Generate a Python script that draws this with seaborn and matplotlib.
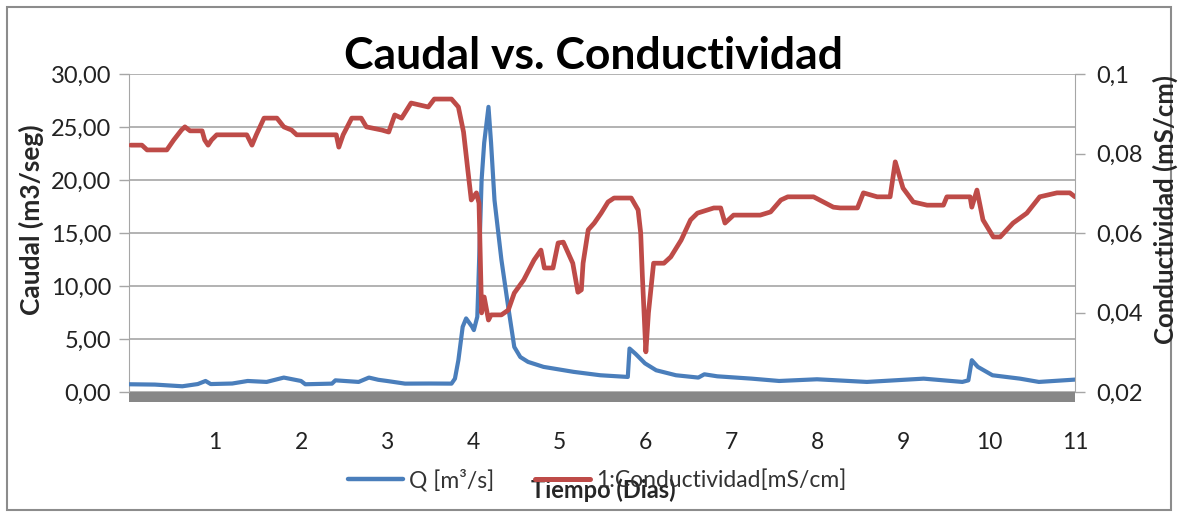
import matplotlib
matplotlib.use("Agg")
import matplotlib.pyplot as plt
from matplotlib.patches import Rectangle
from matplotlib.ticker import FuncFormatter
from matplotlib.lines import Line2D
import seaborn as sns
import pandas as pd

# ---- data ----
q_days = [0.0, 0.3, 0.62, 0.8, 0.89, 0.95, 1.2, 1.38, 1.6, 1.8, 1.9, 2.0, 2.05, 2.36, 2.4, 2.67,
          2.79, 2.9, 3.0, 3.21, 3.5, 3.75, 3.79, 3.83, 3.88, 3.92, 3.99, 4.01, 4.05, 4.06,
          4.1, 4.13, 4.18, 4.21, 4.25, 4.33, 4.41, 4.48, 4.55, 4.64, 4.82, 5.17, 5.48, 5.8,
          5.82, 5.89, 6.0, 6.13, 6.36, 6.62, 6.69, 6.84, 7.24, 7.56, 8.0, 8.58, 9.24, 9.69,
          9.76, 9.8, 9.87, 10.04, 10.36, 10.58, 11.0]
q_vals = [0.73, 0.7, 0.54, 0.75, 1.04, 0.75, 0.8, 1.04, 0.95, 1.36, 1.2, 1.04, 0.73, 0.79, 1.1, 0.95,
          1.36, 1.15, 1.04, 0.79, 0.8, 0.79, 1.26, 3.0, 6.15, 6.94, 6.15, 5.84, 7.1, 9.5,
          20.0, 23.5, 26.9, 23.5, 18.1, 12.5, 8.0, 4.25, 3.3, 2.84, 2.37, 1.9, 1.58, 1.42,
          4.1, 3.6, 2.7, 2.05, 1.58, 1.36, 1.67, 1.48, 1.26, 1.04, 1.2, 0.95, 1.26, 0.95,
          1.1, 3.0, 2.37, 1.58, 1.26, 0.95, 1.17]

c_days = [0.02, 0.15, 0.21, 0.44, 0.52, 0.61, 0.65, 0.71, 0.85, 0.88, 0.92, 0.96, 1.02, 1.37,
          1.43, 1.48, 1.57, 1.72, 1.80, 1.89, 1.95, 2.41, 2.44, 2.49, 2.59, 2.70, 2.76, 2.94,
          3.02, 3.09, 3.17, 3.28, 3.48, 3.55, 3.75, 3.83, 3.89, 3.94, 3.98, 4.04, 4.07, 4.10,
          4.13, 4.18, 4.21, 4.33, 4.41, 4.48, 4.59, 4.71, 4.79, 4.83, 4.93, 4.99, 5.05, 5.16,
          5.22, 5.26, 5.28, 5.34, 5.41, 5.49, 5.57, 5.64, 5.84, 5.92, 5.95, 5.97, 6.01, 6.04,
          6.10, 6.22, 6.30, 6.42, 6.53, 6.61, 6.80, 6.88, 6.93, 7.03, 7.34, 7.46, 7.58, 7.66,
          7.96, 8.19, 8.27, 8.47, 8.54, 8.70, 8.85, 8.91, 9.00, 9.12, 9.28, 9.47, 9.51, 9.78,
          9.80, 9.86, 9.93, 10.05, 10.13, 10.28, 10.44, 10.59, 10.79, 10.94, 11.0]
c_vals = [0.0821, 0.0821, 0.0809, 0.0809, 0.0834, 0.0859, 0.0867, 0.0857, 0.0857, 0.0834,
          0.0821, 0.0834, 0.0847, 0.0847, 0.0821, 0.0847, 0.0889, 0.0889, 0.0867, 0.0859,
          0.0847, 0.0847, 0.0816, 0.0847, 0.0889, 0.0889, 0.0867, 0.0859, 0.0854, 0.0897,
          0.0889, 0.0927, 0.0917, 0.0937, 0.0937, 0.0917, 0.0854, 0.0758, 0.0683, 0.0701,
          0.0675, 0.0399, 0.0439, 0.0381, 0.0394, 0.0394, 0.0406, 0.0449, 0.0482, 0.0532,
          0.0557, 0.0512, 0.0512, 0.0575, 0.0577, 0.0524, 0.0451, 0.0457, 0.0524, 0.0608,
          0.0625, 0.0650, 0.0678, 0.0688, 0.0688, 0.0658, 0.0600, 0.0489, 0.0301, 0.0399,
          0.0524, 0.0524, 0.0540, 0.0582, 0.0633, 0.0650, 0.0663, 0.0663, 0.0625, 0.0645,
          0.0645, 0.0653, 0.0683, 0.0691, 0.0691, 0.0665, 0.0663, 0.0663, 0.0701, 0.0691,
          0.0691, 0.0779, 0.0713, 0.0678, 0.0670, 0.0670, 0.0691, 0.0691, 0.0665, 0.0708,
          0.0633, 0.0590, 0.0590, 0.0625, 0.0650, 0.0691, 0.0701, 0.0701, 0.0691]

x_ticks = [1, 2, 3, 4, 5, 6, 7, 8, 9, 10, 11]
left_ticks = [0, 5, 10, 15, 20, 25, 30]
right_ticks = [0.02, 0.04, 0.06, 0.08, 0.1]

title = "Caudal vs. Conductividad"
xlabel = "Tiempo (Dias)"
ylabel_left = "Caudal (m3/seg)"
ylabel_right = "Conductividad (mS/cm)"
legend_q = "Q [m³/s]"
legend_c = "1:Conductividad[mS/cm]"

# ---- style ----
sns.set_style("white")
plt.rcParams['font.family'] = ['Lato', 'DejaVu Sans']

BLUE = "#4A7EBB"
RED = "#BE4B48"
GRID = "#A6A6A6"

fig = plt.figure(figsize=(11.79, 5.15), dpi=100)
ax = fig.add_axes([129 / 1179, 1 - 392 / 515, (1075 - 129) / 1179, (392 - 74) / 515])
ax2 = ax.twinx()

df_q = pd.DataFrame({"day": q_days, "Q": q_vals})
df_c = pd.DataFrame({"day": c_days, "C": c_vals})

sns.lineplot(data=df_q, x="day", y="Q", ax=ax, color=BLUE, linewidth=3.0, zorder=3)
sns.lineplot(data=df_c, x="day", y="C", ax=ax2, color=RED, linewidth=3.4, zorder=3)

ax.set_xlim(0, 11)
ax.set_ylim(0, 30)
ax2.set_ylim(0.02, 0.1)
ax.set_xticks(x_ticks)
ax.set_yticks(left_ticks)
ax2.set_yticks(right_ticks)

ax.yaxis.set_major_formatter(FuncFormatter(lambda v, p: f"{v:.2f}".replace(".", ",")))
ax2.yaxis.set_major_formatter(FuncFormatter(lambda v, p: f"{v:g}".replace(".", ",")))

ax.grid(axis="y", color=GRID, linewidth=1.2)
ax.grid(axis="x", visible=False)
ax2.grid(False)

for a in (ax, ax2):
    for s in a.spines.values():
        s.set_visible(False)
ax.spines["left"].set_visible(True)
ax.spines["left"].set_color(GRID)
ax2.spines["right"].set_visible(True)
ax2.spines["right"].set_color(GRID)

ax.tick_params(axis="y", which="major", length=7, width=1, color=GRID, labelsize=17, pad=6, left=True)
ax.tick_params(axis="x", length=0, labelsize=16.5, pad=29)
ax2.tick_params(axis="y", which="major", length=7, width=1, color=GRID, labelsize=17, pad=8, right=True)
for lab in ax.get_xticklabels() + ax.get_yticklabels() + ax2.get_yticklabels():
    lab.set_color("#222222")

# Excel-style grey floor under the plot area
ax.add_patch(Rectangle((0, -10 / 318), 1, 10 / 318, transform=ax.transAxes,
                       clip_on=False, facecolor="#878787", edgecolor="none", zorder=1))

ax.set_xlabel("")
ax.set_ylabel("")
ax2.set_ylabel("")

fig.text(593 / 1179, 1 - 56 / 515, title, ha="center", va="center",
         fontsize=32, fontweight="bold", color="black")
fig.text(31 / 1179, 1 - 220 / 515, ylabel_left, rotation=90, ha="center", va="center",
         fontsize=19, fontweight="bold")
fig.text(1165 / 1179, 1 - 209 / 515, ylabel_right, rotation=90, ha="center", va="center",
         fontsize=18.5, fontweight="bold")
fig.text(603 / 1179, 1 - 490 / 515, xlabel, ha="center", va="center",
         fontsize=17, fontweight="bold")

handles = [Line2D([], [], color=BLUE, linewidth=3.2), Line2D([], [], color=RED, linewidth=3.6)]
fig.legend(handles, [legend_q, legend_c], loc="center", bbox_to_anchor=(597 / 1179, 1 - 480 / 515),
           ncol=2, frameon=False, fontsize=16.5, handlelength=2.4, handletextpad=0.25,
           columnspacing=1.8, labelcolor="#333333", borderpad=0, borderaxespad=0)

# outer chart border
fig.patches.append(Rectangle((7 / 1179, 5 / 515), 1164 / 1179, 503 / 515, transform=fig.transFigure,
                             fill=False, edgecolor="#8C8C8C", linewidth=1.5))

fig.savefig("out.png", dpi=100)
